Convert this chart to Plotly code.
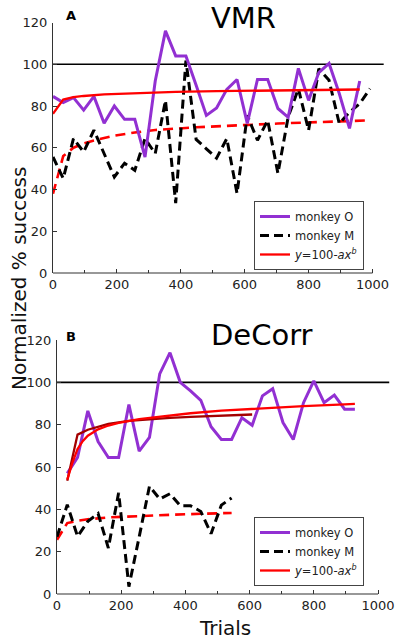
import plotly.graph_objects as go

# ---------------- data ----------------
# Panel A : VMR
A_O_trials = [0, 32, 64, 96, 128, 160, 192, 224, 256, 288, 320, 352, 384, 416, 448, 480,
              512, 544, 576, 608, 640, 672, 704, 736, 768, 800, 832, 864, 896, 928, 960]
A_O_success = [84.6, 81.7, 84, 78, 84.6, 71.7, 80, 73.6, 73.6, 55.5, 92, 116, 104, 104, 90, 75.5,
               79, 88, 92.7, 71.7, 92.7, 92.7, 78.8, 74.6, 98, 82.7, 96, 100.4, 86, 69.3, 92]

A_M_trials = [0, 32, 64, 96, 128, 160, 192, 224, 256, 288, 320, 352, 384, 416, 448, 480,
              512, 544, 576, 608, 640, 672, 704, 736, 768, 800, 832, 864, 896, 928, 960, 992]
A_M_success = [55.6, 45.3, 64.4, 58, 68.4, 57, 46, 52.6, 49.2, 64.4, 57.2, 82.7, 33.5, 101.8, 64, 59.5,
               55, 64.4, 38.1, 75.5, 63.6, 73.1, 47.7, 74.7, 88.3, 68.4, 97.8, 92.3, 71.6, 77.1, 81.1, 88.3]

A_fitO_trials = [0, 32, 64, 96, 160, 256, 384, 512, 640, 768, 960]
A_fitO_success = [76.3, 83.1, 84.2, 84.8, 85.6, 86.2, 86.8, 87.1, 87.4, 87.7, 87.9]

A_fitM_trials = [0, 32, 64, 96, 128, 192, 256, 320, 448, 576, 704, 832, 992]
A_fitM_success = [38, 56, 60, 62, 63.5, 65.8, 67.3, 68.5, 69.8, 70.8, 71.6, 72.3, 73.1]

# Panel B : DeCorr
B_O_trials = [32, 64, 96, 128, 160, 192, 224, 256, 288, 320, 352, 384, 416, 448, 480,
              512, 544, 576, 608, 640, 672, 704, 736, 768, 800, 832, 864, 896, 928]
B_O_success = [57, 64.5, 86.5, 72, 64.5, 64.5, 89.5, 67.5, 74, 104, 114, 100, 96, 91.5, 79,
               73, 73, 83.3, 79.7, 93.6, 97, 81, 73, 90.4, 100.7, 90.4, 94, 87.3, 87.3]

B_M_trials = [0, 32, 64, 96, 128, 160, 192, 224, 256, 288, 320, 352, 384, 416, 448, 480, 512, 544]
B_M_success = [27, 42.2, 27.2, 34.3, 38, 21.7, 47.8, 3.5, 27, 50.9, 44.9, 47.4, 41.7, 41.7, 39, 28.5, 42, 45.4]

B_fitO_trials = [32, 48, 64, 80, 96, 128, 160, 192, 256, 320, 416, 512, 640, 768, 896, 928]
B_fitO_success = [54, 62, 68.5, 72.2, 74.8, 77.8, 79.6, 80.8, 82.6, 83.8, 85.4, 86.6, 87.8, 88.8, 89.6, 89.8]

B_fitO2_trials = [32, 64, 96, 128, 160, 224, 288, 352, 416, 480, 544, 608]
B_fitO2_success = [53.5, 75.3, 77.6, 79.1, 80.4, 81.8, 82.6, 83.2, 83.7, 84.1, 84.4, 84.8]

B_fitM_trials = [0, 32, 64, 96, 160, 256, 352, 448, 544]
B_fitM_success = [25.6, 33.5, 34.6, 35.3, 36.2, 36.9, 37.4, 37.9, 38.3]

ref_trials = [0, 1035]
ref_success = [100, 100]

x_ticks = [0, 200, 400, 600, 800, 1000]
y_ticks = [0, 20, 40, 60, 80, 100, 120]

# ---------------- styling ----------------
W, H = 397, 639
FONT = "DejaVu Sans"
PURPLE = "#9230d2"
RED = "#ff0000"
DARKRED = "#a30000"
AXC = "#333333"
FIT_NAME = "<i>y</i>=100-<i>ax<sup>b</sup></i>"

fig = go.Figure()


def panel(xa, ya, leg, O_x, O_y, M_x, M_y, fits_solid, fit_dash):
    # reference line at 100 %
    fig.add_trace(go.Scatter(x=ref_trials, y=ref_success, mode="lines",
                             line=dict(color="black", width=1.6),
                             xaxis=xa, yaxis=ya, showlegend=False, hoverinfo="skip"))
    fx, fy = fit_dash
    fig.add_trace(go.Scatter(x=fx, y=fy, mode="lines",
                             line=dict(color=RED, width=2.6, dash="10px,6px"),
                             xaxis=xa, yaxis=ya, showlegend=False))
    fig.add_trace(go.Scatter(x=M_x, y=M_y, mode="lines", name="monkey M",
                             line=dict(color="black", width=3, dash="9px,5px"),
                             xaxis=xa, yaxis=ya, legend=leg, legendrank=2))
    fig.add_trace(go.Scatter(x=O_x, y=O_y, mode="lines", name="monkey O",
                             line=dict(color=PURPLE, width=3),
                             xaxis=xa, yaxis=ya, legend=leg, legendrank=1))
    for (sx, sy, col, show) in fits_solid:
        fig.add_trace(go.Scatter(x=sx, y=sy, mode="lines", name=FIT_NAME,
                                 line=dict(color=col, width=2.3),
                                 xaxis=xa, yaxis=ya, legend=leg, legendrank=3,
                                 showlegend=show))


panel("x", "y", "legend", A_O_trials, A_O_success, A_M_trials, A_M_success,
      [(A_fitO_trials, A_fitO_success, RED, True)], (A_fitM_trials, A_fitM_success))
panel("x2", "y2", "legend2", B_O_trials, B_O_success, B_M_trials, B_M_success,
      [(B_fitO2_trials, B_fitO2_success, DARKRED, False),
       (B_fitO_trials, B_fitO_success, RED, True)],
      (B_fitM_trials, B_fitM_success))

XMAX = 1045


def xax(domain, anchor):
    return dict(domain=domain, range=[0, XMAX], showline=False, showgrid=False, zeroline=False,
                tickvals=x_ticks, ticks="inside", ticklen=4, tickwidth=1, tickcolor=AXC,
                minor=dict(dtick=100, tick0=0, ticks="inside", ticklen=3, tickcolor=AXC, showgrid=False),
                tickfont=dict(family=FONT, size=13, color="#222222"), ticklabelstandoff=2,
                anchor=anchor, automargin=False)


def yax(domain, anchor):
    return dict(domain=domain, range=[0, 120], showline=True, linecolor=AXC, linewidth=1.2,
                showgrid=False, zeroline=False, tickvals=y_ticks, ticks="inside", ticklen=4,
                tickcolor=AXC, tickfont=dict(family=FONT, size=13, color="#222222"),
                ticklabelstandoff=2, anchor=anchor, automargin=False)


def px_x(p):
    return p / W


def px_y(p):
    return 1 - p / H


# pixel geometry of the two panels
A_x0, A_x1000 = 53, 372.5
B_x0, B_x1000 = 57, 378
A_dom_x = [px_x(A_x0), px_x(A_x0 + (A_x1000 - A_x0) * XMAX / 1000)]
B_dom_x = [px_x(B_x0), px_x(B_x0 + (B_x1000 - B_x0) * XMAX / 1000)]
A_dom_y = [px_y(273), px_y(22.5)]
B_dom_y = [px_y(594), px_y(340)]


def legend_box(top_px):
    return dict(x=px_x(254), y=px_y(top_px), xanchor="left", yanchor="top",
                bgcolor="white", bordercolor="#444444", borderwidth=1,
                font=dict(family=FONT, size=11.5, color="#222222"),
                tracegroupgap=0, itemwidth=30)


fig.update_layout(
    width=W, height=H, margin=dict(l=0, r=0, t=0, b=0),
    paper_bgcolor="white", plot_bgcolor="white",
    xaxis=xax(A_dom_x, "y"),
    yaxis=yax(A_dom_y, "x"),
    xaxis2=xax(B_dom_x, "y2"),
    yaxis2=yax(B_dom_y, "x2"),
    legend=legend_box(201),
    legend2=legend_box(517),
    showlegend=True,
)

# x-axis lines only spanning 0..1000
for xr, yr in (("x", "y domain"), ("x2", "y2 domain")):
    fig.add_shape(type="line", xref=xr, yref=yr, x0=0, x1=1000, y0=0, y1=0,
                  line=dict(color=AXC, width=1.2), layer="above")

for txt, yy in (("<b>A</b>", 15), ("<b>B</b>", 336)):
    fig.add_annotation(text=txt, x=px_x(71), y=px_y(yy), xref="paper", yref="paper",
                       showarrow=False, xanchor="center", yanchor="middle",
                       font=dict(family=FONT, size=13, color="black"))

fig.add_annotation(text="VMR", x=px_x(210), y=1, xref="paper", yref="paper",
                   showarrow=False, xanchor="left", yanchor="top", borderpad=0,
                   font=dict(family=FONT, size=29, color="black"))
fig.add_annotation(text="DeCorr", x=px_x(209), y=px_y(335), xref="paper", yref="paper",
                   showarrow=False, xanchor="left", yanchor="middle",
                   font=dict(family=FONT, size=29, color="black"))
fig.add_annotation(text="Normalized % success", x=px_x(19), y=px_y(279), xref="paper", yref="paper",
                   showarrow=False, textangle=-90, xanchor="center", yanchor="middle",
                   font=dict(family=FONT, size=20, color="#111111"))
fig.add_annotation(text="Trials", x=px_x(225), y=px_y(628), xref="paper", yref="paper",
                   showarrow=False, xanchor="center", yanchor="middle",
                   font=dict(family=FONT, size=20, color="#111111"))

fig.write_html("out.html", config={"displayModeBar": False},
               post_script="document.body.style.margin='0px';")
